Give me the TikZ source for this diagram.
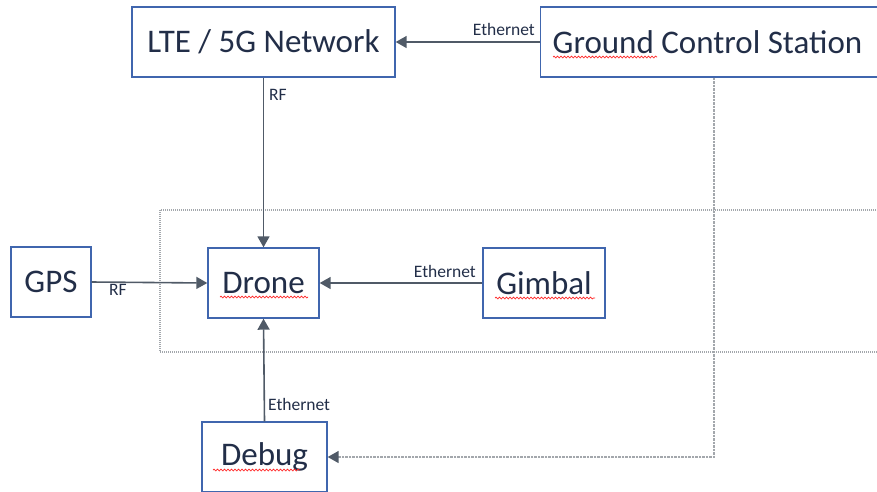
\documentclass[tikz,border=0pt]{standalone}
\usepackage{fontspec}
\setmainfont{Carlito}
\usetikzlibrary{arrows.meta,decorations.pathmorphing}
\definecolor{boxblue}{HTML}{4066AE}
\definecolor{txtnavy}{HTML}{222E48}
\definecolor{arrowgray}{HTML}{505A67}
\definecolor{dashgray}{HTML}{A3A7AC}
\tikzset{
  blockbox/.style={draw=boxblue, line width=1.4pt, fill=white, text=txtnavy,
    font=\fontsize{33}{38}\selectfont, inner sep=0pt},
  conn/.style={draw=arrowgray, line width=1.6pt, -{Triangle[length=11pt,width=12pt]}},
  dashconn/.style={draw=dashgray, line width=1.6pt, dash pattern=on 2.5pt off 1pt,
    -{Triangle[length=11pt,width=12pt,color=arrowgray,fill=arrowgray]}},
  lbl/.style={text=txtnavy, font=\fontsize{17.5}{20}\selectfont, inner sep=0pt},
  spell/.style={draw=red!85, line width=0.7pt, decorate,
    decoration={snake, amplitude=0.9pt, segment length=3.5pt}},
  groupbox/.style={draw=dashgray, line width=1.2pt, dash pattern=on 1pt off 1pt}
}
\begin{document}
\begin{tikzpicture}[x=1pt,y=-1pt]
\useasboundingbox (0,0) rectangle (877,491);
\clip (0,0) rectangle (877,491);
% group (dotted) rectangle
\draw[groupbox] (160,210) rectangle (900,352);
% nodes
\node[blockbox, minimum width=263pt, minimum height=70pt] (lte) at (263.5,42) {LTE / 5G Network};
\node[blockbox, anchor=west, minimum height=70pt, inner xsep=12pt] (gcs) at (540,42)
  {\makebox[326pt][l]{Ground Control Station}};
\node[blockbox, minimum width=80pt, minimum height=70pt] (gps) at (51,282) {GPS};
\node[blockbox, minimum width=111pt, minimum height=70pt] (drone) at (263.5,283) {Drone};
\node[blockbox, minimum width=122pt, minimum height=70pt] (gimbal) at (544,283) {Gimbal};
\node[blockbox, minimum width=125pt, minimum height=70pt] (debug) at (264.5,457) {Debug};
\coordinate (gcsdrop) at (714,77.7);
% connectors
\draw[conn] (gcs.west) -- (lte.east);
\node[lbl, anchor=south east] (lethgcs) at (535,36) {Ethernet};
\draw[conn] (lte.south) -- (drone.north);
\node[lbl, anchor=west] (lrf1) at (269,95) {RF};
\draw[conn] (gps.east) -- (drone.west);
\node[lbl, anchor=north] (lrf2) at (118,284) {RF};
\draw[conn] (gimbal.west) -- (drone.east);
\node[lbl, anchor=south east] (lethgim) at (476,278) {Ethernet};
\draw[conn] (debug.north) -- (drone.south);
\node[lbl, anchor=west] (letdbg) at (268,404) {Ethernet};
\draw[dashconn] (gcsdrop) |- (debug.east);
% spell-check underlines
\draw[spell] (553,57) -- (657,57);
\draw[spell] (220,297) -- (308,297);
\draw[spell] (495,298) -- (595,298);
\draw[spell] (213,470) -- (300,470);
\end{tikzpicture}
\end{document}
